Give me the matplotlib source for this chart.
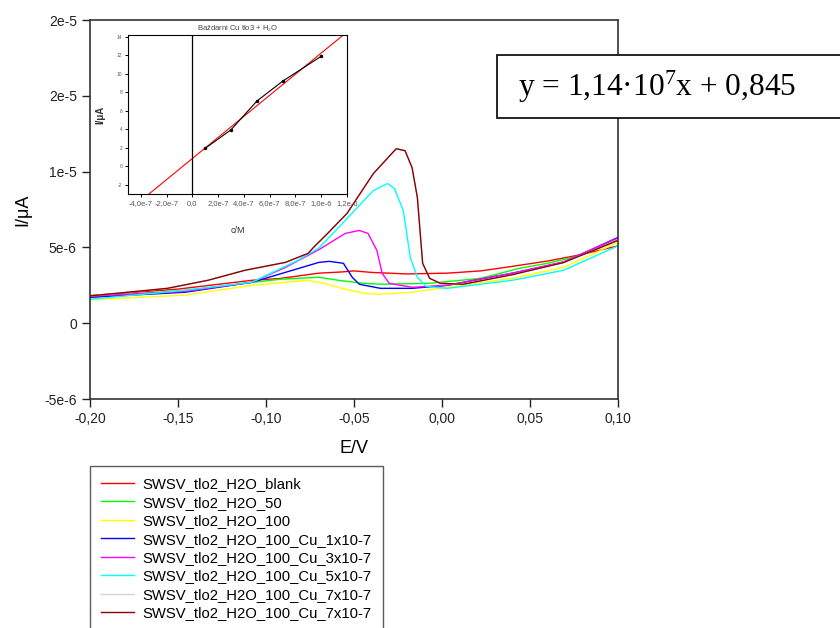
import matplotlib
matplotlib.use("Agg")
import matplotlib.pyplot as plt
from matplotlib.patches import Rectangle

plt.rcParams["font.family"] = ["Liberation Sans", "DejaVu Sans"]
plt.rcParams["mathtext.fontset"] = "custom"
plt.rcParams["mathtext.rm"] = "Liberation Serif"
plt.rcParams["mathtext.it"] = "Liberation Serif:italic"

# --- data: potential E/V and current (in uA, scaled to A below) ---
E_blank = [-0.20, -0.15, -0.108, -0.092, -0.070, -0.057, -0.050, -0.040, -0.020, 0.003, 0.022, 0.040, 0.060, 0.078, 0.100]
I_blank = [1.82, 2.25, 2.83, 2.95, 3.30, 3.38, 3.45, 3.35, 3.25, 3.30, 3.45, 3.75, 4.10, 4.50, 5.10]

E_50 = [-0.20, -0.146, -0.092, -0.070, -0.057, -0.044, -0.035, -0.007, 0.022, 0.044, 0.060, 0.078, 0.100]
I_50 = [1.71, 2.17, 2.90, 3.03, 2.80, 2.63, 2.57, 2.63, 2.96, 3.62, 3.95, 4.45, 5.50]

E_100 = [-0.20, -0.146, -0.108, -0.076, -0.067, -0.057, -0.044, -0.035, -0.017, 0.003, 0.040, 0.069, 0.100]
I_100 = [1.55, 1.85, 2.50, 2.83, 2.63, 2.30, 1.97, 1.91, 2.04, 2.37, 2.96, 3.68, 5.33]

E_cu1 = [-0.20, -0.146, -0.108, -0.085, -0.070, -0.064, -0.056, -0.051, -0.047, -0.035, -0.017, 0.003, 0.040, 0.069, 0.100]
I_cu1 = [1.71, 2.04, 2.70, 3.49, 4.01, 4.08, 3.95, 3.03, 2.57, 2.30, 2.30, 2.50, 3.30, 4.01, 5.66]

E_cu3 = [-0.20, -0.146, -0.108, -0.089, -0.070, -0.055, -0.047, -0.042, -0.037, -0.034, -0.030, -0.017, 0.003, 0.040, 0.069, 0.100]
I_cu3 = [1.78, 2.10, 2.70, 3.68, 4.85, 5.92, 6.12, 5.92, 4.80, 3.29, 2.63, 2.37, 2.50, 3.30, 4.05, 5.62]

E_cu5 = [-0.20, -0.146, -0.108, -0.082, -0.070, -0.054, -0.039, -0.031, -0.027, -0.022, -0.018, -0.014, -0.009, 0.003, 0.040, 0.069, 0.100]
I_cu5 = [1.58, 2.17, 2.70, 4.14, 4.95, 6.90, 8.75, 9.21, 8.88, 7.43, 4.34, 3.03, 2.43, 2.30, 2.83, 3.49, 5.10]

E_cu7 = [-0.20, -0.156, -0.133, -0.112, -0.089, -0.076, -0.073, -0.065, -0.054, -0.039, -0.026, -0.021, -0.017, -0.014, -0.011, -0.007, -0.001, 0.012, 0.040, 0.069, 0.100]
I_cu7 = [1.80, 2.30, 2.83, 3.49, 4.01, 4.61, 5.00, 5.92, 7.24, 9.87, 11.51, 11.38, 10.26, 8.29, 3.95, 2.96, 2.63, 2.57, 3.20, 4.00, 5.46]

labels = ["SWSV_tlo2_H2O_blank", "SWSV_tlo2_H2O_50", "SWSV_tlo2_H2O_100",
          "SWSV_tlo2_H2O_100_Cu_1x10-7", "SWSV_tlo2_H2O_100_Cu_3x10-7",
          "SWSV_tlo2_H2O_100_Cu_5x10-7", "SWSV_tlo2_H2O_100_Cu_7x10-7",
          "SWSV_tlo2_H2O_100_Cu_7x10-7"]
colors = ["#ff0000", "#00ff00", "#ffff00", "#0000ff", "#ff00ff", "#00ffff", "#d3d3d3", "#8b0000"]

# calibration (inset)
c_cal = [1e-7, 3e-7, 5e-7, 7e-7, 1e-6]
i_cal = [1.95, 3.95, 7.05, 9.2, 11.9]
slope, intercept = 1.14e7, 0.845

xticks = [-0.20, -0.15, -0.10, -0.05, 0.00, 0.05, 0.10]
xticklabels = ["-0,20", "-0,15", "-0,10", "-0,05", "0,00", "0,05", "0,10"]
yticks = [-5e-6, 0, 5e-6, 1e-5, 1.5e-5, 2e-5]
yticklabels = ["-5e-6", "0", "5e-6", "1e-5", "2e-5", "2e-5"]

fig = plt.figure(figsize=(8.4, 6.28), dpi=100)
ax = fig.add_axes([90 / 840, 1 - 399 / 628, 528 / 840, 379 / 628])

series = [(E_blank, I_blank), (E_50, I_50), (E_100, I_100), (E_cu1, I_cu1),
          (E_cu3, I_cu3), (E_cu5, I_cu5), (E_cu7, I_cu7), (E_cu7, I_cu7)]
handles = []
for (e, i), col, lab in zip(series, colors, labels):
    h, = ax.plot(e, [v * 1e-6 for v in i], color=col, lw=1.0, label=lab)
    handles.append(h)

ax.set_xlim(-0.20, 0.10)
ax.set_ylim(-5e-6, 2e-5)
ax.set_xticks(xticks)
ax.set_xticklabels(xticklabels, fontsize=10)
ax.set_yticks(yticks)
ax.set_yticklabels(yticklabels, fontsize=10)
ax.tick_params(direction="out", length=6, width=1, colors="#222222")
for s in ax.spines.values():
    s.set_color("#333333")
    s.set_linewidth(1.2)
ax.set_xlabel("E/V", fontsize=13, labelpad=10)
ax.set_ylabel("I/\u03bcA", fontsize=13, labelpad=9)

# inset calibration plot
ins = fig.add_axes([128 / 840, 1 - 194 / 628, 219 / 840, 159 / 628])
ins.set_xlim(-5e-7, 1.2e-6)
ins.set_ylim(-3, 14.2)
xs = [-5e-7, 1.2e-6]
ins.plot(xs, [slope * x + intercept for x in xs], color="red", lw=0.8)
ins.axvline(0, color="black", lw=0.9)
ins.plot(c_cal, i_cal, color="black", lw=0.8, marker="o", ms=1.5)
ins.set_xticks([-4e-7, -2e-7, 0, 2e-7, 4e-7, 6e-7, 8e-7, 1e-6, 1.2e-6])
ins.set_xticklabels(["-4,0e-7", "-2,0e-7", "0,0", "2,0e-7", "4,0e-7", "6,0e-7",
                     "8,0e-7", "1,0e-6", "1,2e-6"], fontsize=5.5, color="#555555")
ins.set_yticks([-2, 0, 2, 4, 6, 8, 10, 12, 14])
ins.set_yticklabels(["-2", "0", "2", "4", "6", "8", "10", "12", "14"], fontsize=3.5, color="#555555")
ins.tick_params(direction="out", length=2.5, width=0.7, pad=1.5)
ins.set_title("Baždarni Cu tlo3 + H$_2$O", fontsize=5.5, color="#444444", pad=3)
ins.set_xlabel("c/M", fontsize=6.5, color="#333333", labelpad=14)
ins.set_ylabel("I/\u03bcA", fontsize=7, fontweight="bold", color="#333333", labelpad=8)

# legend
fig.legend(handles=handles, loc="upper left", bbox_to_anchor=(90 / 840, 1 - 466 / 628),
           fontsize=10.7, frameon=True, fancybox=False, edgecolor="#333333",
           handlelength=2.2, handletextpad=0.6, labelspacing=0.3,
           borderpad=0.75, borderaxespad=0)

# regression equation box
fig.patches.append(Rectangle((497 / 840, 1 - 118 / 628), 400 / 840, 63 / 628,
                             transform=fig.transFigure, facecolor="white",
                             edgecolor="black", lw=1.2, zorder=5))
fig.text(518 / 840, 1 - 87 / 628, "y = 1,14\u00b710$^{\\mathrm{7}}$x + 0,845",
         family="Liberation Serif", fontsize=22.6, va="center", ha="left", zorder=6)

fig.savefig("out.png", dpi=100)
